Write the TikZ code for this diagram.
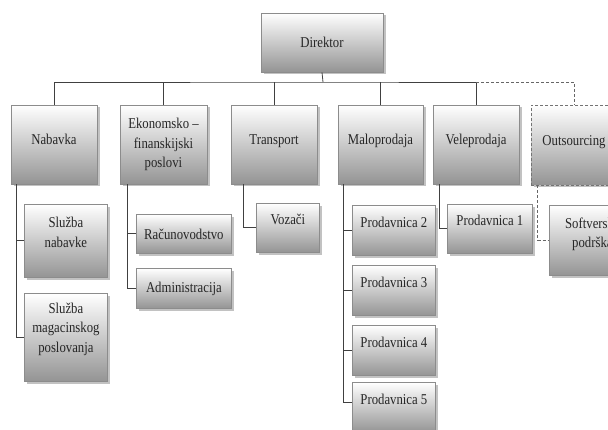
\documentclass[tikz,border=0pt]{standalone}
\usepackage{fontspec}
\setmainfont{Liberation Serif}[FakeStretch=0.85]
\usetikzlibrary{shadows}
\tikzset{
  box/.style={draw=black!45, line width=0.8pt, inner sep=1pt, align=center,
    top color=white, bottom color=black!42, text=black!85,
    font=\fontsize{15}{19.5}\selectfont,
    drop shadow={shadow xshift=2.5pt, shadow yshift=-2.5pt, fill=black!40, opacity=0.6}},
  outbox/.style={box, draw=black!55, dashed, dash pattern=on 3pt off 2pt},
  conn/.style={draw=black!75, line width=0.8pt},
  dconn/.style={draw=black!60, line width=0.8pt, dash pattern=on 3pt off 2pt},
}
\begin{document}
\begin{tikzpicture}[x=1pt,y=-1pt]
\useasboundingbox (0,0) rectangle (608,430);
\clip (0,0) rectangle (608,430);
% level 0
\node[box, minimum width=122pt, minimum height=59pt] (dir) at (322,42.5) {Direktor};
% level 1
\node[box, minimum width=86pt, minimum height=79pt] (nab) at (54,144.5) {Nabavka\\[-10pt]};
\node[box, minimum width=87pt, minimum height=79pt] (eko) at (163.5,144.5) {Ekonomsko –\\finanskijski\\poslovi};
\node[box, minimum width=86pt, minimum height=79pt] (tra) at (274,144.5) {Transport\\[-10pt]};
\node[box, minimum width=85pt, minimum height=79pt] (mal) at (380.5,144.5) {Maloprodaja\\[-10pt]};
\node[box, minimum width=86pt, minimum height=79pt] (vel) at (476,144.5) {Veleprodaja\\[-10pt]};
\node[outbox, minimum width=86pt, minimum height=80pt] (out) at (574,145) {Outsourcing\\[-10pt]};
% level 2
\node[box, minimum width=83pt, minimum height=73pt, anchor=north west] (sn) at (24,204) {Služba\\nabavke\\[-2pt]};
\node[box, minimum width=83pt, minimum height=88pt, anchor=north west] (sm) at (24,293) {Služba\\magacinskog\\poslovanja\\[0pt]};
\node[box, minimum width=95pt, minimum height=39pt, anchor=north west] (rac) at (136,214) {Računovodstvo};
\node[box, minimum width=95pt, minimum height=40pt, anchor=north west] (adm) at (136,268) {Administracija};
\node[box, minimum width=63pt, minimum height=49pt, anchor=north west] (voz) at (256,203) {Vozači\\[-3pt]};
\node[box, minimum width=83pt, minimum height=50pt, anchor=north west] (p2) at (352,205) {Prodavnica 2\\[-3pt]};
\node[box, minimum width=83pt, minimum height=50pt, anchor=north west] (p3) at (352,265) {Prodavnica 3\\[-3pt]};
\node[box, minimum width=83pt, minimum height=50pt, anchor=north west] (p4) at (352,325) {Prodavnica 4\\[-3pt]};
\node[box, minimum width=83pt, minimum height=50pt, anchor=north west] (p5) at (352,382) {Prodavnica 5\\[-3pt]};
\node[box, minimum width=85pt, minimum height=49pt, anchor=north west] (p1) at (447,204) {Prodavnica 1\\[-3pt]};
\node[box, minimum width=86pt, minimum height=70pt, anchor=north west] (sof) at (549,205) {Softverska\\podrška\\[-4pt]};
% bus
\coordinate (bus) at (323,82);
\draw[conn] (dir.south) -- (bus);
\draw[conn] (nab.north) |- (bus) -| (vel.north);
\draw[conn] (eko.north) -- (eko.north |- bus);
\draw[conn] (tra.north) -- (tra.north |- bus);
\draw[conn] (mal.north) -- (mal.north |- bus);
\draw[dconn] (vel.north |- bus) -| (out.north);
% children
\draw[conn] ([xshift=6pt]nab.south west) |- (sn.west);
\draw[conn] ([xshift=6pt]nab.south west) |- (sm.west);
\draw[conn] ([xshift=8pt]eko.south west) |- (rac.west);
\draw[conn] ([xshift=8pt]eko.south west) |- (adm.west);
\draw[conn] ([xshift=13pt]tra.south west) |- (voz.west);
\draw[conn] ([xshift=6pt]mal.south west) |- (p2.west);
\draw[conn] ([xshift=6pt]mal.south west) |- (p3.west);
\draw[conn] ([xshift=6pt]mal.south west) |- (p4.west);
\draw[conn] ([xshift=6pt]mal.south west) |- ([yshift=5pt]p5.west);
\draw[conn] ([xshift=7pt]vel.south west) |- (p1.west);
\draw[dconn] ([xshift=7pt]out.south west) |- (sof.west);
\end{tikzpicture}
\end{document}
